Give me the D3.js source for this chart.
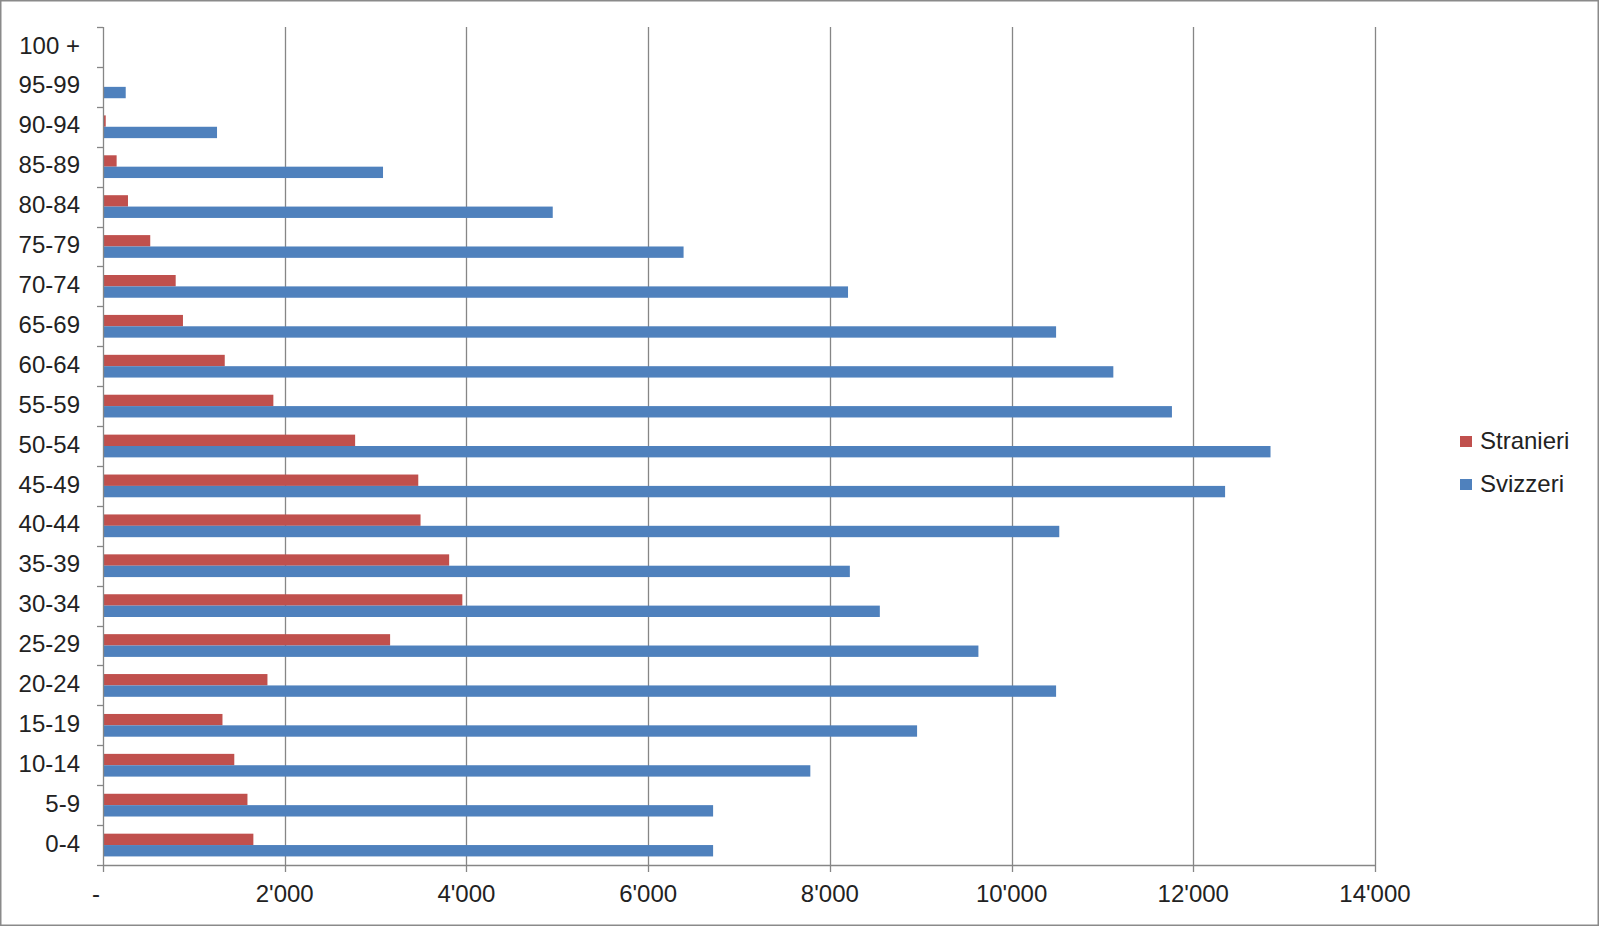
<!DOCTYPE html>
<html><head><meta charset="utf-8">
<script src="https://cdn.jsdelivr.net/npm/d3@7"></script>
<style>body{margin:0;background:#fff}svg{display:block}text{font-family:"Liberation Sans",Arial,sans-serif;fill:#222}</style>
</head><body>
<svg id="c" width="1600" height="927"></svg>
<script>
const categories = ["100 +","95-99","90-94","85-89","80-84","75-79","70-74","65-69","60-64","55-59","50-54","45-49","40-44","35-39","30-34","25-29","20-24","15-19","10-14","5-9","0-4"];
const stranieri = [0,0,30,150,275,520,800,880,1340,1875,2775,3470,3495,3810,3955,3160,1810,1315,1445,1590,1655];
const svizzeri  = [0,250,1255,3082,4950,6390,8200,10490,11120,11765,12850,12350,10525,8220,8550,9635,10490,8960,7785,6715,6715];
const xTicks = [0,2000,4000,6000,8000,10000,12000,14000];
const xTickLabels = ["-","2'000","4'000","6'000","8'000","10'000","12'000","14'000"];
const seriesNames = ["Stranieri","Svizzeri"];
const colors = ["#C0504D","#4F81BD"];

const svg = d3.select("#c");
const L = 103, R = 1375, T = 27, B = 865;
const x = d3.scaleLinear().domain([0,14000]).range([L,R]);
const y = d3.scaleBand().domain(categories).range([T,B]).paddingInner(0.43).paddingOuter(0.215);
const y1 = d3.scaleBand().domain(seriesNames).range([0,y.bandwidth()]);

svg.append("rect").attr("x",0.75).attr("y",0.75).attr("width",1597.5).attr("height",924.5)
  .attr("fill","none").attr("stroke","#8a8a8a").attr("stroke-width",1.5);

// gridlines
svg.append("g").selectAll("line").data(xTicks.slice(1)).join("line")
  .attr("x1",d=>Math.round(x(d))+0.5).attr("x2",d=>Math.round(x(d))+0.5)
  .attr("y1",T).attr("y2",B).attr("stroke","#868686").attr("stroke-width",1.3);

// bars
const data = categories.map((c,i)=>({c, vals:[stranieri[i], svizzeri[i]]}));
const g = svg.append("g").selectAll("g").data(data).join("g")
  .attr("transform",d=>`translate(0,${y(d.c)})`);
g.selectAll("rect").data(d=>d.vals.map((v,j)=>({v,j}))).join("rect")
  .attr("x",x(0)).attr("y",d=>y1(seriesNames[d.j]))
  .attr("width",d=>x(d.v)-x(0)).attr("height",y1.bandwidth())
  .attr("fill",d=>colors[d.j]);

// y axis
const yBoundaries = d3.range(categories.length+1).map(i=>T + i*(B-T)/categories.length);
svg.append("line").attr("x1",L+0.5).attr("x2",L+0.5).attr("y1",T).attr("y2",B).attr("stroke","#868686").attr("stroke-width",1.3);
svg.append("g").selectAll("line").data(yBoundaries).join("line")
  .attr("x1",L-6).attr("x2",L).attr("y1",d=>Math.round(d)+0.5).attr("y2",d=>Math.round(d)+0.5)
  .attr("stroke","#868686").attr("stroke-width",1.3);
svg.append("g").selectAll("text").data(categories).join("text")
  .attr("x",80).attr("y",d=>y(d)+y.bandwidth()/2 - 2).attr("dy","0.36em")
  .attr("text-anchor","end").attr("font-size",24).text(d=>d);

// x axis
svg.append("line").attr("x1",L).attr("x2",R).attr("y1",B+0.5).attr("y2",B+0.5).attr("stroke","#868686").attr("stroke-width",1.3);
svg.append("g").selectAll("line").data(xTicks).join("line")
  .attr("x1",d=>Math.round(x(d))+0.5).attr("x2",d=>Math.round(x(d))+0.5)
  .attr("y1",B).attr("y2",B+7).attr("stroke","#868686").attr("stroke-width",1.3);
svg.append("g").selectAll("text").data(xTicks).join("text")
  .attr("x",(d,i)=> i===0 ? x(d)-7 : x(d)).attr("y",902)
  .attr("text-anchor","middle").attr("font-size",24).text((d,i)=>xTickLabels[i]);

// legend
const lg = svg.append("g").selectAll("g").data(seriesNames).join("g")
  .attr("transform",(d,i)=>`translate(1460,${436 + i*43})`);
lg.append("rect").attr("width",12).attr("height",11).attr("fill",(d,i)=>colors[i]);
lg.append("text").attr("x",20).attr("y",4).attr("dy","0.36em").attr("font-size",24).text(d=>d);
</script>
</body></html>
